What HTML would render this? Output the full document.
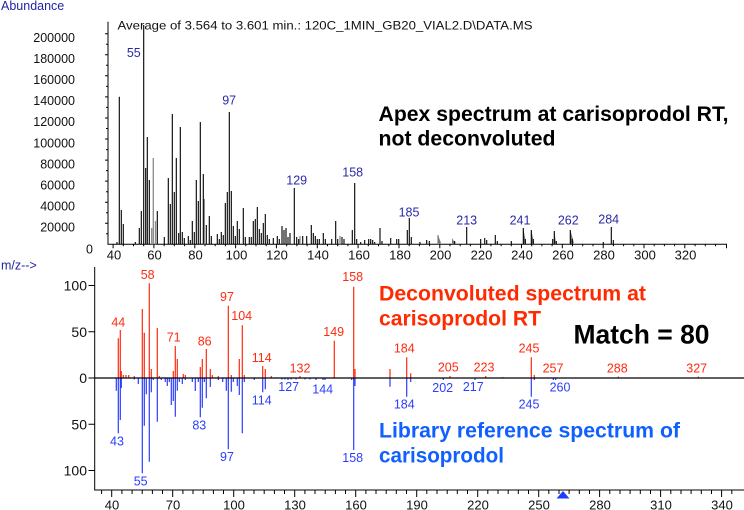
<!DOCTYPE html>
<html><head><meta charset="utf-8"><style>
html,body{margin:0;padding:0;background:#fff;}
svg{display:block;}
text{font-family:"Liberation Sans",Arial,sans-serif;}
</style></head><body>
<svg width="744" height="510" viewBox="0 0 744 510" xmlns="http://www.w3.org/2000/svg">
<rect width="744" height="510" fill="#fff"/>

<!-- ===== TOP PANEL ===== -->
<text x="1" y="10" font-size="12.5" fill="#2323a6">Abundance</text>
<text x="117.5" y="29.5" font-size="12.3" fill="#111" textLength="415" lengthAdjust="spacingAndGlyphs">Average  of 3.564 to 3.601 min.: 120C_1MIN_GB20_VIAL2.D\DATA.MS</text>

<!-- y labels -->
<g font-size="12.5" fill="#111" text-anchor="end">
<text x="75" y="42">200000</text>
<text x="75" y="63">180000</text>
<text x="75" y="84">160000</text>
<text x="75" y="105">140000</text>
<text x="75" y="126.2">120000</text>
<text x="75" y="147.3">100000</text>
<text x="75" y="168.4">80000</text>
<text x="75" y="189.4">60000</text>
<text x="75" y="210.5">40000</text>
<text x="75" y="231.6">20000</text>
<text x="93" y="253.5">0</text>
</g>
<!-- axes -->
<path d="M108 21.7V244.3H727" stroke="#000" stroke-width="1" fill="none"/>
<path d="M105 33.7H108M106 44.2H108M105 54.8H108M106 65.3H108M105 75.8H108M106 86.4H108M105 96.9H108M106 107.4H108M105 118H108M106 128.5H108M105 139H108M106 149.6H108M105 160.1H108M106 170.6H108M105 181.1H108M106 191.7H108M105 202.2H108M106 212.7H108M105 223.2H108M106 233.8H108" stroke="#000" stroke-width="1"/>
<path d="M113.1 244.3v4M153.9 244.3v4M194.8 244.3v4M235.6 244.3v4M276.4 244.3v4M317.3 244.3v4M358.1 244.3v4M399 244.3v4M439.8 244.3v4M480.6 244.3v4M521.5 244.3v4M562.3 244.3v4M603.2 244.3v4M644 244.3v4M684.8 244.3v4M726.5 244.3v4
M123.3 244.3v2M133.5 244.3v2M143.7 244.3v2M164.1 244.3v2M174.3 244.3v2M184.6 244.3v2M205 244.3v2M215.2 244.3v2M225.4 244.3v2M245.8 244.3v2M256 244.3v2M266.2 244.3v2M286.7 244.3v2M296.9 244.3v2M307.1 244.3v2M327.5 244.3v2M337.7 244.3v2M347.9 244.3v2M368.3 244.3v2M378.5 244.3v2M388.8 244.3v2M409.2 244.3v2M419.4 244.3v2M429.6 244.3v2M450 244.3v2M460.2 244.3v2M470.4 244.3v2M490.9 244.3v2M501.1 244.3v2M511.3 244.3v2M531.7 244.3v2M541.9 244.3v2M552.1 244.3v2M572.5 244.3v2M582.7 244.3v2M593 244.3v2M613.4 244.3v2M623.6 244.3v2M633.8 244.3v2M654.2 244.3v2M664.4 244.3v2M674.6 244.3v2M695.1 244.3v2M705.3 244.3v2M715.5 244.3v2" stroke="#000" stroke-width="1"/>
<g font-size="13" fill="#111" text-anchor="middle">
<text x="114" y="259.5">40</text><text x="154.5" y="259.5">60</text><text x="195.5" y="259.5">80</text><text x="236.5" y="259.5">100</text><text x="277" y="259.5">120</text><text x="318" y="259.5">140</text><text x="359" y="259.5">160</text><text x="400" y="259.5">180</text><text x="440.5" y="259.5">200</text><text x="481.5" y="259.5">220</text><text x="522" y="259.5">240</text><text x="563" y="259.5">260</text><text x="604" y="259.5">280</text><text x="645" y="259.5">300</text><text x="685.5" y="259.5">320</text>
</g>

<!-- top spectrum gray -->
<path d="M153.3 244.3V158M151.7 244.3V228M155.5 244.3V221M204.3 244.3V199M340 244.3V236M438 244.3V235M300 244.3V236" stroke="#888" stroke-width="1.3"/>
<path d="M523.3 228L526 243L523.3 244Z M531.3 230L534 243L531.3 244Z M570.3 230L574 243L570.3 244Z M554.3 231L556 243L554.3 244Z M438 235L441 243L438 244Z M452 238L455 243L452 244Z" fill="#777"/>
<!-- top spectrum black -->
<path stroke="#000" stroke-width="1.1" fill="none" d="
M117 244.3V242M119.3 244.3V96.7M121.3 244.3V210M123.3 244.3V224M135.3 244.3V242M139.3 244.3V228M141.3 244.3V211M143.7 244.3V25M145.7 244.3V168M147.3 244.3V137M149.3 244.3V180M157.3 244.3V211M164.3 244.3V237
M168.3 244.3V178M170.3 244.3V204M172.3 244.3V114M174.3 244.3V192M176.3 244.3V158M178.7 244.3V233M180.3 244.3V127M182.3 244.3V232M184.3 244.3V238M188.3 244.3V236M190.3 244.3V240M192.3 244.3V221M194.3 244.3V232M196.3 244.3V180M198.3 244.3V201M200.3 244.3V122M203.3 244.3V174M206.3 244.3V225M209.3 244.3V216M211.3 244.3V236
M217.3 244.3V234M219.3 244.3V239M221.3 244.3V232M223.3 244.3V235M225.3 244.3V203M227.3 244.3V192M229.3 244.3V112M231.3 244.3V191M233.3 244.3V226M235.3 244.3V236M237.3 244.3V221M239.3 244.3V229M243.3 244.3V208M245.3 244.3V237M249.3 244.3V237M251.3 244.3V237M253.3 244.3V221M255.3 244.3V219M257.3 244.3V207M259.3 244.3V229M261.3 244.3V233M263.3 244.3V223M265.3 244.3V214M267.3 244.3V235M269.3 244.3V239M273.3 244.3V238M277.3 244.3V236M279.3 244.3V239
M282 244.3V226M284 244.3V230M286 244.3V228M288 244.3V237M290 244.3V233M294.3 244.3V188M296.7 244.3V237M298.7 244.3V239M302.7 244.3V236M306.7 244.3V236M311.3 244.3V225M313.3 244.3V233M315.3 244.3V236M317.3 244.3V239M319.3 244.3V239M323.3 244.3V233M325.3 244.3V239M331.7 244.3V239M335.7 244.3V221M337.7 244.3V239M342 244.3V237M344 244.3V239
M352.3 244.3V230M354.7 244.3V183M356.7 244.3V239M360.7 244.3V242M364.7 244.3V240M368.7 244.3V239M370.7 244.3V239M372.7 244.3V240M374.7 244.3V242M380 244.3V228M382 244.3V241M390.7 244.3V238M396.7 244.3V239M398.7 244.3V239M407.3 244.3V230M409.3 244.3V218M411.3 244.3V237M420 244.3V242M426.7 244.3V240M429.3 244.3V241M454.7 244.3V241M466.7 244.3V227M480.7 244.3V239M484.7 244.3V238M486.7 244.3V240M495.3 244.3V235M497.3 244.3V241M511.3 244.3V241M523.3 244.3V228M525.3 244.3V239M531.3 244.3V230M533.3 244.3V239M552.7 244.3V239M554.3 244.3V231M556.3 244.3V241M570.3 244.3V230M572.3 244.3V239M603.3 244.3V242M611.3 244.3V227M613.3 244.3V240"/>
<!-- top labels -->
<g font-size="12.5" fill="#2a2aa8" text-anchor="middle">
<text x="133.8" y="57">55</text><text x="229.2" y="104.3">97</text><text x="296.7" y="184.3">129</text><text x="352.7" y="176.6">158</text><text x="409" y="216.6">185</text><text x="466.7" y="224.3">213</text><text x="520" y="224.3">241</text><text x="568.3" y="224.3">262</text><text x="608.7" y="223.6">284</text>
</g>
<text x="378.5" y="121" font-size="21" font-weight="bold" fill="#000" textLength="350" lengthAdjust="spacingAndGlyphs">Apex spectrum at carisoprodol RT,</text>
<text x="378.5" y="145.5" font-size="21" font-weight="bold" fill="#000" textLength="177" lengthAdjust="spacingAndGlyphs">not deconvoluted</text>

<!-- ===== BOTTOM PANEL ===== -->
<text x="1" y="269.5" font-size="12.5" fill="#2323a6">m/z--&gt;</text>
<g font-size="14" fill="#111" text-anchor="end">
<text x="87" y="290.5">100</text><text x="87" y="336.8">50</text><text x="87" y="383">0</text><text x="87" y="429.3">50</text><text x="87" y="475.5">100</text>
</g>
<path d="M94.7 267V490H744" stroke="#000" stroke-width="1" fill="none"/>
<path d="M88.5 285.5H94.7M88.5 331.75H94.7M88.5 378H94.7M88.5 424.25H94.7M88.5 470.5H94.7" stroke="#000" stroke-width="1"/>
<path d="M111.7 490v7M172.7 490v7M233.7 490v7M294.7 490v7M355.7 490v7M416.7 490v7M477.7 490v7M538.7 490v7M599.6 490v7M660.6 490v7M721.6 490v7
M101.6 490v4M121.9 490v4M132.1 490v4M142.2 490v4M152.4 490v4M162.5 490v4M182.9 490v4M193 490v4M203.2 490v4M213.4 490v4M223.5 490v4M243.9 490v4M254 490v4M264.2 490v4M274.4 490v4M284.5 490v4M304.9 490v4M315 490v4M325.2 490v4M335.4 490v4M345.5 490v4M365.9 490v4M376 490v4M386.2 490v4M396.3 490v4M406.5 490v4M426.8 490v4M437 490v4M447.2 490v4M457.3 490v4M467.5 490v4M487.8 490v4M498 490v4M508.2 490v4M518.3 490v4M528.5 490v4M548.8 490v4M559 490v4M569.1 490v4M579.3 490v4M589.5 490v4M609.8 490v4M620 490v4M630.1 490v4M640.3 490v4M650.5 490v4M670.8 490v4M681 490v4M691.1 490v4M701.3 490v4M711.5 490v4M731.8 490v4" stroke="#000" stroke-width="1"/>
<path d="M556.5 498.5H569.5L563 491Z" fill="#1f3cff"/>
<g font-size="13" fill="#111" text-anchor="middle">
<text x="112" y="509.5">40</text><text x="173" y="509.5">70</text><text x="234" y="509.5">100</text><text x="295" y="509.5">130</text><text x="356" y="509.5">160</text><text x="417" y="509.5">190</text><text x="478" y="509.5">220</text><text x="539" y="509.5">250</text><text x="600" y="509.5">280</text><text x="661" y="509.5">310</text><text x="722" y="509.5">340</text>
</g>

<!-- red bars -->
<path stroke="#ff2a10" stroke-width="1.2" fill="none" d="
M118.3 378V338.3M120.3 378V330M121.3 378V371M123.3 378V375M126 378V375M128.7 378V375M134.3 378V376M142.3 378V309M144.3 378V332.7M149.3 378V283.3M151.3 378V369M157.3 378V328M159.3 378V376M173.3 378V371M175.3 378V346M177.3 378V359M183.3 378V374M185.3 378V375M200.3 378V367M202.3 378V359M206.3 378V349M210.3 378V369M212.3 378V375M218.3 378V376M228.3 378V305.7M231.3 378V375M239.3 378V359M242.3 378V325.3M244.3 378V375M262.7 378V366M265.3 378V369M271.3 378V376M300 378V376M334.3 378V340.7M353.7 378V286.7M355 378V369M390 378V369M406.7 378V357.3M410.7 378V373.3M450 378V376M485.7 378V376M502.7 378V377M531.3 378V357.3M534.3 378V375M618.3 378V376.5M698.3 378V376.5"/>
<!-- blue bars -->
<path stroke="#2b3dff" stroke-width="1.2" fill="none" d="
M116.3 378V390.7M118.3 378V433.3M120.3 378V420M121.3 378V388M134.3 378V379.5M138.3 378V384M142.3 378V473.3M144.3 378V425.7M146.3 378V394.3M149.3 378V461.7M151.3 378V392.3M153.3 378V380M157.3 378V421.7M161.3 378V380M165.3 378V382M167.3 378V386M169.3 378V382M171.3 378V405M173.3 378V401M175.3 378V416.7M177.3 378V390.7M179.3 378V382M182.3 378V384M185.3 378V380M192.3 378V382M195.3 378V391M198.3 378V382M200.3 378V417.3M202.3 378V407.7M204.3 378V382M206.3 378V398.3M210.3 378V387M218.3 378V380M222.7 378V382M226.3 378V390.7M228.3 378V449.3M231.3 378V391.7M233.3 378V382M237.3 378V386M239.3 378V395M242.3 378V433.3M244.3 378V382M254.3 378V380M262.7 378V392.3M265.3 378V389.3
M282 378V379.5M285 378V379.5M288 378V380M291 378V379.5M296 378V379.5M305 378V379.5M310 378V379.5M316 378V380M323 378V380M325 378V380M351.7 378V380M353.7 378V450M355 378V386M390 378V386.7M406.7 378V396.7M410.7 378V382M443.3 378V380M475 378V380M531.3 378V396.7M534.3 378V380M553.3 378V380M555.7 378V380"/>
<path d="M94.7 378H744" stroke="#000" stroke-width="1.2"/>

<!-- red labels -->
<g font-size="12.5" fill="#ff2a10" text-anchor="middle">
<text x="118.3" y="326.6">44</text><text x="147.7" y="279">58</text><text x="173.7" y="341.6">71</text><text x="204.7" y="345.3">86</text><text x="227" y="301">97</text><text x="241.7" y="320">104</text><text x="261.7" y="362">114</text><text x="300" y="372.6">132</text><text x="333.7" y="336">149</text><text x="352.7" y="281">158</text><text x="404.3" y="352.6">184</text><text x="448.3" y="371.6">205</text><text x="484" y="371.6">223</text><text x="529" y="352.6">245</text><text x="553" y="372.6">257</text><text x="617.3" y="372.6">288</text><text x="696.7" y="372.6">327</text>
</g>
<!-- blue labels -->
<g font-size="12.5" fill="#2b3dff" text-anchor="middle">
<text x="117" y="445.3">43</text><text x="140.7" y="485.3">55</text><text x="199.3" y="429.3">83</text><text x="227" y="461">97</text><text x="261.7" y="404.3">114</text><text x="288.7" y="391">127</text><text x="322.7" y="393.3">144</text><text x="352.7" y="462">158</text><text x="404.3" y="408.6">184</text><text x="442.7" y="392">202</text><text x="473.3" y="391">217</text><text x="529" y="408.6">245</text><text x="560" y="391.6">260</text>
</g>

<text x="379" y="300.7" font-size="21" font-weight="bold" fill="#ff2a00" textLength="267" lengthAdjust="spacingAndGlyphs">Deconvoluted spectrum at</text>
<text x="379" y="325.5" font-size="21" font-weight="bold" fill="#ff2a00" textLength="162" lengthAdjust="spacingAndGlyphs">carisoprodol RT</text>
<text x="573.5" y="343.3" font-size="26.5" font-weight="bold" fill="#000" textLength="136" lengthAdjust="spacingAndGlyphs">Match = 80</text>
<text x="379" y="437.7" font-size="21" font-weight="bold" fill="#1060ff" textLength="301" lengthAdjust="spacingAndGlyphs">Library reference spectrum of</text>
<text x="379" y="462.3" font-size="21" font-weight="bold" fill="#1060ff" textLength="125" lengthAdjust="spacingAndGlyphs">carisoprodol</text>
</svg>
</body></html>
